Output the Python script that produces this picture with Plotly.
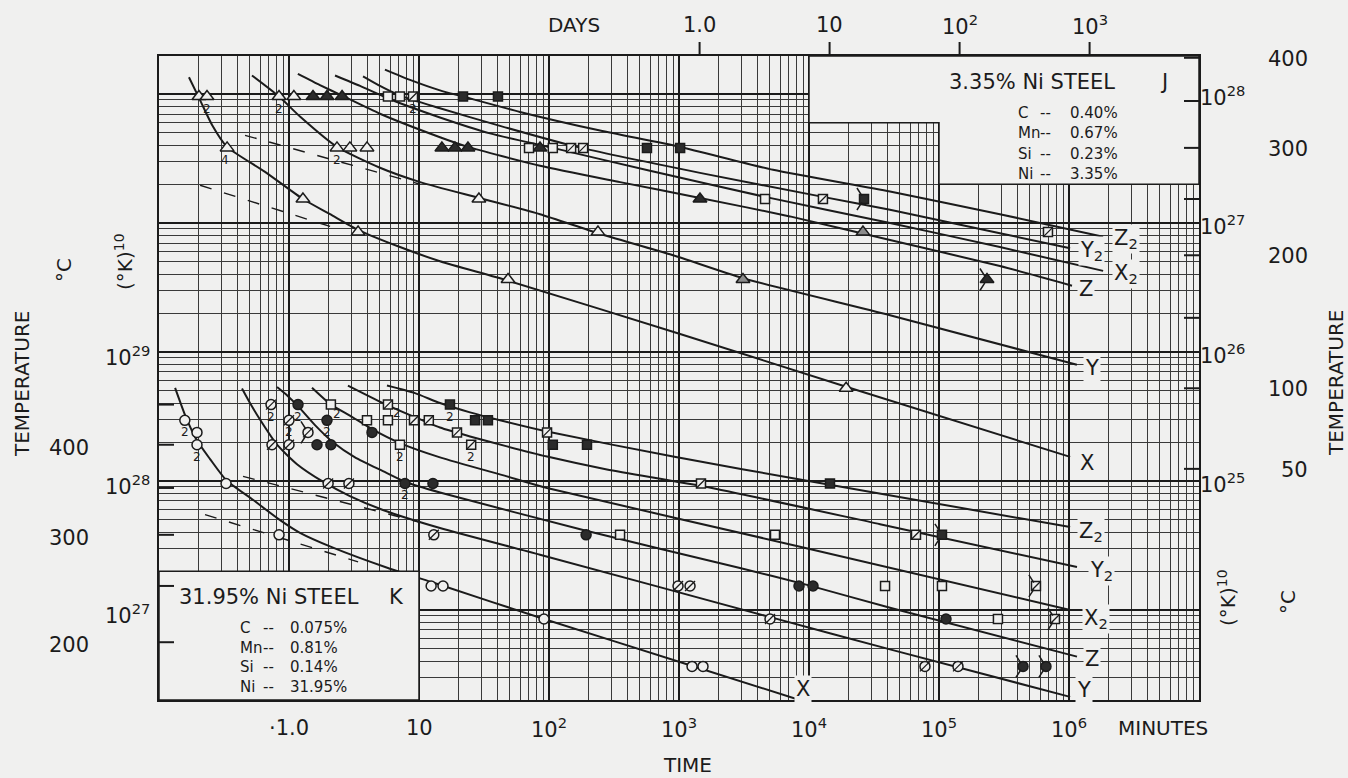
import numpy as np
import plotly.graph_objects as go

# Isothermal transformation of two nickel steels, plotted as (°K)^10
# against time.  Times in minutes, temperatures in °C.

# ---- 3.35% Ni steel J : curves (right-hand scale) ----
j_x_time = [0.170, 0.207, 0.256, 0.334, 0.654, 1.28, 2.07, 3.40, 7.14, 14.5, 48.4, 1020, 19300, 1.02e6]
j_x_temp = [377, 351, 324, 301, 276, 250, 236, 222, 207, 195, 179, 138, 101, 57]
j_y_time = [0.519, 0.838, 1.215, 2.34, 5.01, 10.2, 28.9, 85.3, 238, 900, 3105, 42000, 1.15e6]
j_y_temp = [379, 355, 333, 301, 280, 266, 251, 236, 219, 200, 181, 152, 116]
j_z_time = [1.17, 1.73, 2.56, 5.01, 14.5, 23.8, 85.3, 352, 1450, 7140, 42000, 294000, 1.055e6]
j_z_temp = [381, 368, 356, 336, 311, 301, 282, 266, 251, 234, 213, 191, 175]
j_x2_time = [2.26, 3.52, 5.98, 14.5, 35.2, 107, 598, 4590, 42000, 294000, 1.83e6]
j_x2_temp = [379, 367, 352, 332, 315, 300, 277, 252, 228, 207, 187]
j_y2_time = [3.71, 5.01, 7.14, 14.5, 42.0, 164, 1450, 12800, 42000, 294000, 1.02e6]
j_y2_temp = [378, 367, 356, 342, 323, 301, 275, 252, 240, 219, 206]
j_z2_time = [5.47, 8.53, 14.5, 21.8, 59.8, 247, 1020, 5290, 42000, 294000, 1.83e6]
j_z2_temp = [386, 374, 362, 355, 338, 318, 301, 278, 257, 236, 216]
j_dash_a_time = [0.459, 10.2]
j_dash_a_temp = [313, 264]
j_dash_b_time = [0.207, 2.07]
j_dash_b_temp = [263, 225]

# ---- 3.35% Ni steel J : observations ----
j_tri_open_time = [0.203, 0.234, 0.838, 1.09, 0.334, 2.34, 2.94, 3.98, 1.28, 28.9, 3.40, 238, 48.4, 19300]
j_tri_open_temp = [355, 355, 355, 355, 300, 300, 300, 300, 250, 250, 220, 220, 180, 100]
j_tri_half_time = [26000, 3105]
j_tri_half_temp = [220, 180]
j_tri_full_time = [1.53, 1.96, 2.56, 15.0, 18.9, 23.8, 85.3, 1450, 234000]
j_tri_full_temp = [355, 355, 355, 300, 300, 300, 300, 250, 180]
j_sq_open_time = [5.77, 7.14, 70.2, 107, 4590]
j_sq_open_temp = [355, 355, 300, 300, 250]
j_sq_slash_time = [8.99, 148, 183, 12800, 689000]
j_sq_slash_temp = [355, 300, 300, 250, 220]
j_sq_full_time = [21.8, 40.5, 567, 1020, 26500]
j_sq_full_temp = [355, 355, 300, 300, 250]
j_arrow_time = [26500, 234000]
j_arrow_temp = [250, 180]
j_tag_time = [0.234, 0.838, 8.99, 0.334, 2.34]
j_tag_temp = [355, 355, 355, 300, 300]
j_tag_text = ['2', '2', '2', '4', '2']

# ---- 31.95% Ni steel K : curves (left-hand scale) ----
k_x_time = [0.133, 0.161, 0.196, 0.247, 0.328, 0.528, 0.838, 1.215, 2.18, 5.77, 13.7, 91.5, 1216, 8224]
k_x_temp = [472, 434, 405, 383, 359, 337, 316, 302, 287, 267, 252, 220, 181, 154]
k_y_time = [0.435, 0.501, 0.598, 0.809, 1.152, 1.826, 2.94, 5.28, 14.5, 85.3, 5290, 42000, 1.02e6]
k_y_temp = [471, 452, 431, 400, 377, 357, 341, 326, 307, 280, 221, 194, 156]
k_z_time = [0.809, 0.982, 1.173, 1.585, 2.18, 3.22, 5.28, 7.80, 14.5, 183, 2945, 9660, 42000, 1.152e6]
k_z_temp = [473, 461, 448, 424, 403, 385, 369, 357, 345, 305, 267, 251, 230, 188]
k_x2_time = [1.503, 2.10, 2.94, 4.35, 7.14, 14.5, 47.5, 96.6, 8530, 1.02e6]
k_x2_temp = [472, 450, 436, 419, 402, 385, 363, 350, 288, 228]
k_y2_time = [2.84, 5.28, 8.99, 14.5, 24.7, 47.5, 96.6, 279, 1641, 35200, 1.152e6]
k_y2_temp = [475, 452, 435, 421, 410, 398, 386, 371, 351, 311, 268]
k_z2_time = [5.67, 9.31, 14.5, 24.7, 42.0, 96.6, 900, 9660, 1.02e6]
k_z2_temp = [475, 465, 452, 440, 430, 416, 386, 358, 308]
k_dash_a_time = [0.443, 10.2]
k_dash_a_temp = [363, 313]
k_dash_b_time = [0.226, 3.40]
k_dash_b_temp = [321, 273]

# ---- 31.95% Ni steel K : observations ----
k_circ_open_time = [0.158, 0.196, 0.196, 0.328, 0.838, 12.4, 15.3, 91.5, 1260, 1530]
k_circ_open_temp = [430, 415, 400, 355, 300, 250, 250, 220, 180, 180]
k_circ_slash_time = [0.727, 1.0, 0.740, 1.0, 1.40, 2.0, 2.89, 13.0, 983, 1216, 5012, 78000, 140000]
k_circ_slash_temp = [450, 430, 400, 400, 415, 355, 355, 300, 250, 250, 220, 180, 180]
k_circ_full_time = [1.173, 1.96, 1.642, 2.10, 4.35, 7.80, 12.8, 193, 8375, 10740, 113200, 443000, 665000]
k_circ_full_temp = [450, 430, 400, 400, 415, 355, 355, 300, 250, 250, 220, 180, 180]
k_sq_open_time = [2.10, 3.98, 5.77, 7.14, 352, 5476, 38460, 105400, 284000]
k_sq_open_temp = [450, 430, 430, 400, 300, 300, 250, 250, 220]
k_sq_slash_time = [5.77, 9.15, 11.9, 19.6, 25.2, 96.6, 1476, 66530, 557000, 780000]
k_sq_slash_temp = [450, 430, 430, 415, 400, 415, 355, 300, 250, 220]
k_sq_full_time = [17.3, 27.0, 33.9, 107, 196, 14500, 105400]
k_sq_full_temp = [450, 430, 430, 400, 400, 355, 300]
k_arrow_time = [1.40, 105400, 557000, 780000, 443000, 665000]
k_arrow_temp = [415, 300, 250, 220, 180, 180]
k_tag_time = [0.158, 0.196, 0.727, 1.0, 1.173, 1.96, 2.10, 5.77, 7.14, 17.3, 25.2, 7.80]
k_tag_temp = [430, 400, 450, 430, 450, 430, 450, 450, 400, 450, 400, 355]
k_tag_text = ['2'] * 12

# ---- scales and labels ----
curve_names = ['X', 'Y', 'Z', 'X<sub>2</sub>', 'Y<sub>2</sub>', 'Z<sub>2</sub>']
minute_ticks = [1, 10, 1e2, 1e3, 1e4, 1e5, 1e6]
minute_labels = ['·1.0', '10', '10<sup>2</sup>', '10<sup>3</sup>', '10<sup>4</sup>', '10<sup>5</sup>', '10<sup>6</sup>']
day_ticks = [1, 10, 100, 1000]
day_labels = ['1.0', '10', '10<sup>2</sup>', '10<sup>3</sup>']
MIN_PER_DAY = 1440
k_decades = [27, 28, 29]
k_temp_labels = [400, 300, 200]
k_temp_ticks = [450, 400, 350, 300, 250, 200]
j_decades = [25, 26, 27, 28]
j_temp_labels = [400, 300, 200, 100, 50]
j_temp_ticks = [400, 350, 300, 250, 200, 150, 100, 50]
j_comp = [('C', '0.40%'), ('Mn', '0.67%'), ('Si', '0.23%'), ('Ni', '3.35%')]
k_comp = [('C', '0.075%'), ('Mn', '0.81%'), ('Si', '0.14%'), ('Ni', '31.95%')]

# ---- styling ----
BG = '#f0f0ef'
INK = '#1b1b1b'
GRID = '#3a3a3a'
FONT = 'DejaVu Sans'
X_RANGE = [-1.0, 7.0]
K_RANGE = [26.302, 31.295]
J_RANGE = [23.302, 28.295]
W, H = 1348, 778
ML, MR, MT, MB = 159, 149, 56, 78
PW, PH = W - ML - MR, H - MT - MB


def k10(temp_c):
    return (np.asarray(temp_c, dtype=float) + 273.15) ** 10


def logk10(temp_c):
    return float(np.log10(k10(temp_c)))


def fx(px):
    # figure pixel column -> paper fraction
    return (px - ML) / PW


def fy(py):
    # figure pixel row -> paper fraction
    return (H - MB - py) / PH


def yfrac(logv, rng):
    return (logv - rng[0]) / (rng[1] - rng[0])


fig = go.Figure()


def add_curve(t, temp, yax, dash=None, width=2.0):
    fig.add_trace(go.Scatter(
        x=t, y=k10(temp), yaxis=yax, mode='lines', hoverinfo='skip',
        line=dict(color=INK, width=width, shape='spline', smoothing=0.6, dash=dash)))


def add_marks(t, temp, yax, symbol, size, fill, lw=1.5):
    fig.add_trace(go.Scatter(
        x=t, y=k10(temp), yaxis=yax, mode='markers', hoverinfo='skip',
        marker=dict(symbol=symbol, size=size, color=fill, line=dict(color=INK, width=lw))))


DASH = '12px,13px'
for t, tp in [(j_dash_a_time, j_dash_a_temp), (j_dash_b_time, j_dash_b_temp)]:
    add_curve(t, tp, 'y2', dash=DASH, width=1.4)
for t, tp in [(k_dash_a_time, k_dash_a_temp), (k_dash_b_time, k_dash_b_temp)]:
    add_curve(t, tp, 'y', dash=DASH, width=1.4)

j_curves = [(j_x_time, j_x_temp), (j_y_time, j_y_temp), (j_z_time, j_z_temp),
            (j_x2_time, j_x2_temp), (j_y2_time, j_y2_temp), (j_z2_time, j_z2_temp)]
k_curves = [(k_x_time, k_x_temp), (k_y_time, k_y_temp), (k_z_time, k_z_temp),
            (k_x2_time, k_x2_temp), (k_y2_time, k_y2_temp), (k_z2_time, k_z2_temp)]
for t, tp in j_curves:
    add_curve(t, tp, 'y2')
for t, tp in k_curves:
    add_curve(t, tp, 'y')

FULL = '#2b2b2b'
HALF = '#8c8c8c'
# steel J symbols
add_marks(j_tri_open_time, j_tri_open_temp, 'y2', 'triangle-up', 12, BG)
add_marks(j_tri_half_time, j_tri_half_temp, 'y2', 'triangle-up', 12, HALF)
add_marks(j_tri_full_time, j_tri_full_temp, 'y2', 'triangle-up', 12, FULL)
add_marks(j_sq_open_time, j_sq_open_temp, 'y2', 'square', 9, BG)
add_marks(j_sq_slash_time, j_sq_slash_temp, 'y2', 'square', 9, BG)
add_marks(j_sq_slash_time, j_sq_slash_temp, 'y2', 'line-ne', 9, INK, lw=1.3)
add_marks(j_sq_full_time, j_sq_full_temp, 'y2', 'square', 9, FULL)
# steel K symbols
add_marks(k_circ_open_time, k_circ_open_temp, 'y', 'circle', 10, BG)
add_marks(k_circ_slash_time, k_circ_slash_temp, 'y', 'circle', 10, BG)
add_marks(k_circ_slash_time, k_circ_slash_temp, 'y', 'line-ne', 10, INK, lw=1.3)
add_marks(k_circ_full_time, k_circ_full_temp, 'y', 'circle', 10, FULL)
add_marks(k_sq_open_time, k_sq_open_temp, 'y', 'square', 9, BG)
add_marks(k_sq_slash_time, k_sq_slash_temp, 'y', 'square', 9, BG)
add_marks(k_sq_slash_time, k_sq_slash_temp, 'y', 'line-ne', 9, INK, lw=1.3)
add_marks(k_sq_full_time, k_sq_full_temp, 'y', 'square', 9, FULL)

ann = []


def text(x, y, s, size=21, xref='paper', yref='paper', xanchor='center', yanchor='middle', **kw):
    d = dict(x=x, y=y, xref=xref, yref=yref, text=s, showarrow=False,
             xanchor=xanchor, yanchor=yanchor,
             font=dict(family=FONT, size=size, color=INK))
    d.update(kw)
    ann.append(d)


# open-ended (still untransformed) tests: short strokes beside the symbol
def pointer(t, tp, yref):
    for ay in (-14, 14):
        ann.append(dict(x=float(np.log10(t)), y=logk10(tp), xref='x', yref=yref,
                        text=' ', showarrow=True, arrowhead=0, arrowwidth=1.5,
                        arrowcolor=INK, ax=-9, ay=ay, standoff=4,
                        font=dict(size=2)))


for t, tp in zip(j_arrow_time, j_arrow_temp):
    pointer(t, tp, 'y2')
for t, tp in zip(k_arrow_time, k_arrow_temp):
    pointer(t, tp, 'y')

# replicate-count tags under symbols
j_tag_shift = [(0, -12), (0, -12), (0, -12), (-2, -12), (0, -12)]
for t, tp, s, (dx, dy) in zip(j_tag_time, j_tag_temp, j_tag_text, j_tag_shift):
    text(float(np.log10(t)), logk10(tp), s, size=12, xref='x', yref='y2', xshift=dx, yshift=dy)
k_tag_shift = [(0, -12), (0, -12), (0, -12), (0, -12), (0, -12), (0, -12),
               (6, -9), (9, -8), (0, -12), (0, -12), (0, -12), (0, -12)]
for t, tp, s, (dx, dy) in zip(k_tag_time, k_tag_temp, k_tag_text, k_tag_shift):
    text(float(np.log10(t)), logk10(tp), s, size=12, xref='x', yref='y', xshift=dx, yshift=dy)

# curve names at the curve ends
j_name_shift = [(8, -6), (6, -3), (5, -3), (9, -3), (8, -3), (9, -2)]
for (t, tp), name, (dx, dy) in zip(j_curves, curve_names, j_name_shift):
    text(float(np.log10(t[-1])), logk10(tp[-1]), name, size=21, xref='x', yref='y2',
         xanchor='left', xshift=dx, yshift=dy, bgcolor=BG, borderpad=1)
k_name_shift = [(5, 11), (5, 7), (6, -2), (12, -9), (11, -4), (7, -5)]
for i, ((t, tp), name, (dx, dy)) in enumerate(zip(k_curves, curve_names, k_name_shift)):
    text(float(np.log10(t[-1])), logk10(tp[-1]), name, size=21, xref='x', yref='y',
         xanchor='center' if i == 0 else 'left', xshift=dx, yshift=dy, bgcolor=BG, borderpad=1)

# time scales
for v, s in zip(minute_ticks, minute_labels):
    text(float(np.log10(v)), fy(728), s, xref='x')
text(fx(1163), fy(728), 'MINUTES', size=20)
text(fx(687), fy(765), 'TIME', size=20)
for v, s in zip(day_ticks, day_labels):
    text(float(np.log10(v * MIN_PER_DAY)), fy(25), s, xref='x')
text(fx(574), fy(25), 'DAYS', size=20)

# left scale (steel K)
for d in k_decades:
    text(fx(127), d, '10<sup>%d</sup>' % d, yref='y', yshift=-4)
for tc in k_temp_labels:
    text(fx(69), logk10(tc), str(tc), yref='y', yshift=-3)
text(fx(22), fy(384), 'TEMPERATURE', size=20, textangle=-90)
text(fx(64), fy(270), '°C', size=20, textangle=-90)
text(fx(124), fy(262), '(°K)<sup>10</sup>', size=20, textangle=-90)

# right scale (steel J)
for d in j_decades:
    text(fx(1222), d, '10<sup>%d</sup>' % d, yref='y2', yshift=-2)
for tc in j_temp_labels:
    text(fx(1310), logk10(tc), str(tc), yref='y2', xanchor='right', yshift=-1)
text(fx(1336), fy(383), 'TEMPERATURE', size=20, textangle=-90)
text(fx(1227), fy(598), '(°K)<sup>10</sup>', size=20, textangle=-90)
text(fx(1288), fy(602), '°C', size=20, textangle=-90)

# composition panels
text(fx(947), fy(82), '3.35% Ni STEEL', size=21, xanchor='left')
text(fx(1158), fy(82), 'J', size=21, xanchor='left')
for (el, val), row in zip(j_comp, [113, 133, 154, 174]):
    text(fx(1016), fy(row), el, size=15, xanchor='left')
    text(fx(1038), fy(row), '--', size=15, xanchor='left')
    text(fx(1068), fy(row), val, size=15, xanchor='left')
text(fx(177), fy(597), '31.95% Ni STEEL', size=21, xanchor='left')
text(fx(387), fy(597), 'K', size=21, xanchor='left')
for (el, val), row in zip(k_comp, [628, 648, 667, 687]):
    text(fx(238), fy(row), el, size=15, xanchor='left')
    text(fx(261), fy(row), '--', size=15, xanchor='left')
    text(fx(288), fy(row), val, size=15, xanchor='left')

shapes = []
# composition panels cover the ruling
xj0 = yfrac(4, X_RANGE)
xj1 = yfrac(5, X_RANGE)
yj0 = yfrac(np.log10(6e27), J_RANGE)
yj1 = yfrac(np.log10(2e27), J_RANGE)
shapes.append(dict(type='path', xref='paper', yref='paper', layer='above',
                   path='M %f,1 L 1,1 L 1,%f L %f,%f L %f,%f L %f,%f Z' % (xj0, yj1, xj1, yj1, xj1, yj0, xj0, yj0),
                   fillcolor=BG, line=dict(color=INK, width=1.5)))
xk1 = yfrac(1, X_RANGE)
yk1 = yfrac(np.log10(2e27), K_RANGE)
shapes.append(dict(type='rect', xref='paper', yref='paper', layer='above',
                   x0=0, x1=xk1, y0=0, y1=yk1, fillcolor=BG, line=dict(color=INK, width=1.5)))
# temperature ticks inside the frame
TL = 15 / PW
for tc in k_temp_ticks:
    yy = yfrac(logk10(tc), K_RANGE)
    shapes.append(dict(type='line', xref='paper', yref='paper', layer='above',
                       x0=0, x1=TL, y0=yy, y1=yy, line=dict(color=INK, width=2)))
for tc in j_temp_ticks:
    yy = yfrac(logk10(tc), J_RANGE)
    shapes.append(dict(type='line', xref='paper', yref='paper', layer='above',
                       x0=1 - TL, x1=1, y0=yy, y1=yy, line=dict(color=INK, width=2)))
# day ticks above the frame
for v in day_ticks:
    xx = yfrac(np.log10(v * MIN_PER_DAY), X_RANGE)
    shapes.append(dict(type='line', xref='paper', yref='paper', layer='above',
                       x0=xx, x1=xx, y0=1, y1=1 + 14 / PH, line=dict(color=INK, width=2)))

minor = dict(showgrid=True, gridcolor=GRID, gridwidth=1, dtick='D1', ticks='')
fig.update_layout(
    width=W, height=H,
    margin=dict(l=ML, r=MR, t=MT, b=MB),
    paper_bgcolor=BG, plot_bgcolor=BG,
    showlegend=False, hovermode=False,
    xaxis=dict(type='log', range=X_RANGE, dtick=1, showgrid=True, gridcolor=INK, gridwidth=2,
               minor=minor, showticklabels=False, ticks='', zeroline=False,
               showline=True, mirror=True, linecolor=INK, linewidth=2),
    yaxis=dict(type='log', range=K_RANGE, showgrid=False, showticklabels=False, ticks='',
               zeroline=False, showline=True, mirror=True, linecolor=INK, linewidth=2),
    yaxis2=dict(type='log', range=J_RANGE, overlaying='y', side='right', dtick=1,
                showgrid=True, gridcolor=INK, gridwidth=2, minor=minor,
                showticklabels=False, ticks='', zeroline=False, showline=False),
    annotations=ann,
    shapes=shapes,
)

fig.write_html('out.html')
